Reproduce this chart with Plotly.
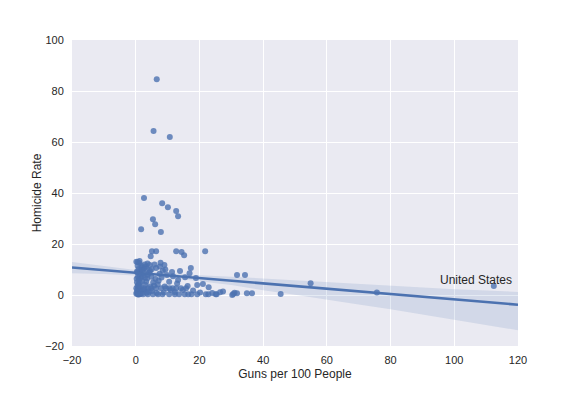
import plotly.graph_objects as go

# Scatter data: guns per 100 people (x) vs homicide rate (y)
guns = [
    6.6, 5.6, 10.7, 2.6, 8.3, 10.1, 12.7, 13.3, 5.4, 6.1, 7.9, 1.7,
    5.1, 6.4, 12.7, 14.4, 15.2, 21.8, 4.7,
    112.4, 75.7, 54.9, 45.5, 31.8, 34.3, 30.3, 31.0, 31.8, 34.9, 36.5, 30.6,
    1.2, 1.9, 2.8, 3.7, 7.6, 5.0, 6.4, 8.5, 9.3, 13.9, 17.3, 16.9, 11.7, 13.3,
    18.9, 19.3, 21.1, 22.9, 27.4,
    0.7, 1.2, 3.8, 5.4, 7.0, 8.4, 10.5, 12.3, 13.6, 15.4, 16.5, 17.5, 19.3,
    22.0, 22.8, 25.1, 25.4,
    0.2, 1.2, 2.8, 3.8, 4.9, 6.4, 8.0, 9.5, 10.6, 11.6, 12.7, 14.2, 15.8,
    0.3, 0.5, 0.6, 0.8, 0.4, 1.0, 0.7, 1.2, 0.5, 1.5, 0.9, 1.8, 0.6, 1.1,
    0.2, 1.4, 0.9, 1.6, 1.3, 2.0, 1.7, 2.2, 0.4, 2.5, 2.1, 0.8, 1.9, 2.4,
    2.8, 3.0, 3.3, 3.6, 2.9, 3.8, 4.2, 4.5, 2.6, 3.2, 0.3, 1.0, 0.6, 0.2,
    1.3, 2.3, 3.4, 4.1, 5.1, 4.6, 5.8, 6.9, 5.5, 7.2, 6.2, 8.1, 4.9, 7.5,
    9.8, 10.5, 9.1, 11.0, 12.3, 8.8, 6.6, 14.8, 16.3, 18.0, 20.2, 24.0,
    26.5, 13.0, 15.5, 11.4, 9.0, 7.8, 5.9, 4.4, 3.5,
]
homicide = [
    84.6, 64.3, 62.0, 38.0, 36.0, 34.4, 32.9, 30.9, 29.7, 27.7, 24.7, 25.8,
    17.2, 17.2, 17.2, 16.9, 15.6, 17.2, 15.2,
    3.5, 1.0, 4.6, 0.4, 7.8, 7.8, 0.0, 0.9, 0.7, 0.7, 0.7, 0.4,
    13.3, 11.4, 12.0, 12.4, 11.2, 10.1, 10.6, 9.5, 10.0, 9.4, 10.6, 8.5, 7.4, 5.9,
    6.7, 3.9, 4.3, 3.0, 1.4,
    0.3, 0.3, 0.3, 0.3, 0.3, 0.3, 0.3, 0.3, 0.3, 0.3, 0.3, 0.3, 0.3,
    0.3, 0.3, 0.3, 0.3,
    2.6, 2.6, 2.6, 2.6, 2.6, 2.6, 2.6, 2.6, 2.6, 2.6, 2.6, 2.6, 2.6,
    1.0, 2.0, 3.5, 4.2, 5.0, 6.1, 7.2, 8.0, 8.8, 9.5, 10.2, 10.8, 11.5, 12.5,
    0.5, 1.5, 2.8, 3.1, 4.8, 5.5, 6.8, 7.5, 9.2, 8.6, 9.9, 0.2, 0.7, 1.8,
    2.2, 4.0, 5.2, 6.5, 7.0, 7.9, 8.7, 9.4, 10.4, 11.1, 6.4, 3.7, 12.9, 13.0,
    0.4, 0.3, 0.9, 1.3, 1.6, 3.3, 3.7, 4.1, 5.0, 5.6, 6.3, 6.9, 7.2, 8.3,
    7.8, 5.2, 3.3, 2.0, 1.2, 1.0, 0.8, 2.0, 3.5, 1.8, 1.0, 0.8,
    1.1, 4.5, 7.0, 9.0, 11.8, 12.6, 12.0, 11.8, 10.2,
]

# Regression line and confidence band
fit_x = [-20, 120]
fit_y = [10.8, -3.8]
ci_x = [-20, -10, 0, 10, 20, 30, 40, 50, 60, 70, 80, 90, 100, 110, 120]
ci_upper = [12.9, 11.3, 9.8, 8.6, 7.7, 7.2, 6.5, 5.8, 5.1, 4.3, 3.5, 2.9, 2.3, 1.8, 1.2]
ci_lower = [8.5, 8.2, 7.6, 6.8, 5.4, 3.9, 1.9, 0.1, -1.7, -3.7, -5.6, -7.7, -9.7, -11.7, -13.8]

x_ticks = [-20, 0, 20, 40, 60, 80, 100, 120]
y_ticks = [-20, 0, 20, 40, 60, 80, 100]

BLUE = "#4C72B0"
FONT = "Liberation Sans, Arial, sans-serif"

fig = go.Figure()
fig.add_trace(go.Scatter(
    x=ci_x + ci_x[::-1], y=ci_upper + ci_lower[::-1],
    fill="toself", fillcolor="rgba(76,114,176,0.15)",
    line=dict(width=0), mode="lines", hoverinfo="skip", showlegend=False,
))
fig.add_trace(go.Scatter(
    x=guns, y=homicide, mode="markers",
    marker=dict(color="rgba(76,114,176,0.8)", size=6, line=dict(width=0)),
    showlegend=False,
))
fig.add_trace(go.Scatter(
    x=fit_x, y=fit_y, mode="lines",
    line=dict(color=BLUE, width=2.6), showlegend=False,
))

fig.add_annotation(
    x=95, y=2.3, text="United States", showarrow=False,
    xanchor="left", yanchor="bottom",
    font=dict(size=12, color="#262626", family=FONT),
)

axis_common = dict(
    showgrid=True, gridcolor="white", gridwidth=1, zeroline=False,
    showline=False, ticks="outside", tickcolor="rgba(0,0,0,0)",
    tickfont=dict(size=11, color="#262626", family=FONT),
)

fig.update_layout(
    width=576, height=396,
    margin=dict(l=64, r=66, t=32, b=58),
    paper_bgcolor="white", plot_bgcolor="#EAEAF2",
    font=dict(family=FONT, color="#262626"),
    xaxis=dict(range=[-20, 120], tickvals=x_ticks, ticklen=4,
               title=dict(text="Guns per 100 People", font=dict(size=12, family=FONT), standoff=4),
               **axis_common),
    yaxis=dict(range=[-20, 100], tickvals=y_ticks, ticklen=5,
               title=dict(text="Homicide Rate", font=dict(size=12, family=FONT), standoff=0),
               **axis_common),
)

fig.write_html("out.html")
